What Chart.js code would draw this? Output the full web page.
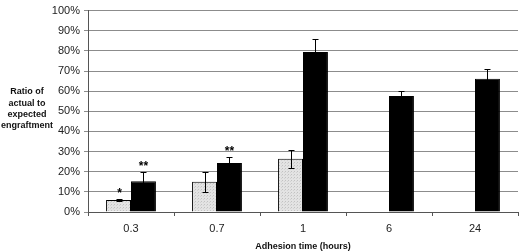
<!DOCTYPE html>
<html>
<head>
<meta charset="utf-8">
<script src="https://cdn.jsdelivr.net/npm/chart.js@4"></script>
<style>
  html, body { margin: 0; padding: 0; background: #fff; }
  #c { display: block; }
</style>
</head>
<body>
<canvas id="c" width="520" height="252"></canvas>
<script>
const labels = ['0.3', '0.7', '1', '6', '24'];
const grayValues = [6, 15, 26.5, null, null];
const grayErrors = [0.7, 5, 4.5, null, null];
const blackValues = [15.3, 24.3, 79.4, 57.6, 66.2];
const blackErrors = [4.7, 3.2, 6.7, 2.4, 4.7];
const grayStars = ['*', '', '', '', ''];
const blackStars = ['**', '**', '', '', ''];
const yTitleLines = ['Ratio of', 'actual to', 'expected', 'engraftment'];
const xTitle = 'Adhesion time (hours)';

// stippled light gray fill
function stipple() {
  const p = document.createElement('canvas');
  p.width = 3; p.height = 3;
  const g = p.getContext('2d');
  g.fillStyle = '#e3e3e3';
  g.fillRect(0, 0, 3, 3);
  g.fillStyle = '#c2c2c2';
  g.fillRect(0, 0, 1, 1);
  g.fillStyle = '#d2d2d2';
  g.fillRect(2, 1, 1, 1);
  return g.createPattern(p, 'repeat');
}

const ctx = document.getElementById('c').getContext('2d');

const errorBars = {
  id: 'errorBars',
  afterDatasetsDraw(chart) {
    const y = chart.scales.y;
    const c = chart.ctx;
    c.save();
    c.strokeStyle = '#000';
    c.lineWidth = 1;
    chart.data.datasets.forEach((ds, i) => {
      const meta = chart.getDatasetMeta(i);
      meta.data.forEach((bar, j) => {
        const v = ds.data[j];
        const e = ds.errors[j];
        if (v == null) return;
        const x = Math.round(bar.x) + 0.5;
        let top = y.getPixelForValue(v);
        if (e != null) {
          top = Math.round(y.getPixelForValue(v + e)) + 0.5;
          const bot = Math.round(y.getPixelForValue(v - e)) + 0.5;
          c.beginPath();
          c.moveTo(x, top); c.lineTo(x, bot);
          c.moveTo(x - 3, top); c.lineTo(x + 3, top);
          c.moveTo(x - 3, bot); c.lineTo(x + 3, bot);
          c.stroke();
        }
        const s = ds.stars[j];
        if (s) {
          c.fillStyle = '#000';
          c.font = 'bold 12px "Liberation Sans", Arial, sans-serif';
          c.textAlign = 'center';
          c.textBaseline = 'top';
          c.fillText(s, x, top - 12);
        }
      });
    });
    c.restore();
  },
  afterDraw(chart) {
    const c = chart.ctx;
    c.save();
    c.fillStyle = '#111';
    c.font = 'bold 9px "Liberation Sans", Arial, sans-serif';
    c.textAlign = 'center';
    c.textBaseline = 'middle';
    yTitleLines.forEach((t, i) => c.fillText(t, 27, 92 + i * 11.3));
    c.restore();
  }
};

new Chart(ctx, {
  type: 'bar',
  data: {
    labels: labels,
    datasets: [
      {
        data: grayValues,
        errors: grayErrors,
        stars: grayStars,
        backgroundColor: stipple(),
        borderColor: '#000',
        borderWidth: 1,
        categoryPercentage: 0.58,
        barPercentage: 1
      },
      {
        data: blackValues,
        errors: blackErrors,
        stars: blackStars,
        backgroundColor: '#000',
        borderColor: '#000',
        borderWidth: 1,
        categoryPercentage: 0.58,
        barPercentage: 1
      }
    ]
  },
  options: {
    responsive: false,
    animation: false,
    layout: { padding: { left: 0, right: 2, top: 0, bottom: 0 } },
    plugins: {
      legend: { display: false },
      tooltip: { enabled: false }
    },
    scales: {
      x: {
        grid: { offset: true, drawOnChartArea: false, tickLength: 4, color: '#555' },
        border: { color: '#555' },
        ticks: {
          color: '#222',
          padding: 6,
          font: { family: '"Liberation Sans", Arial, sans-serif', size: 11 }
        },
        title: {
          display: true,
          text: xTitle,
          color: '#111',
          padding: { top: 0, bottom: 0 },
          font: { family: '"Liberation Sans", Arial, sans-serif', size: 9, weight: 'bold' }
        },
        afterFit(scale) { scale.height = 40; }
      },
      y: {
        min: 0,
        max: 100,
        grid: { color: '#8c8c8c', tickLength: 4 },
        border: { color: '#555' },
        ticks: {
          stepSize: 10,
          color: '#222',
          padding: 4,
          font: { family: '"Liberation Sans", Arial, sans-serif', size: 11 },
          callback: v => v + '%'
        },
        afterFit(scale) { scale.width = 88; }
      }
    }
  },
  plugins: [errorBars]
});
</script>
</body>
</html>
